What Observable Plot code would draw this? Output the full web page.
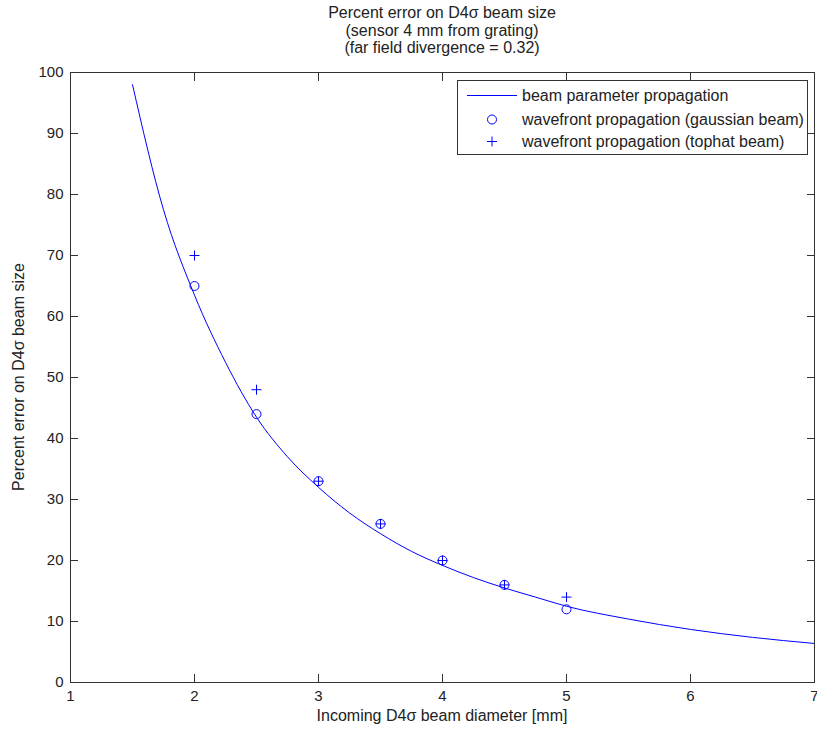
<!DOCTYPE html>
<html><head><meta charset="utf-8">
<script src="https://cdn.jsdelivr.net/npm/d3@7"></script>
<script src="https://cdn.jsdelivr.net/npm/@observablehq/plot@0.6"></script>
<style>
body{margin:0;background:#fff;font-family:"Liberation Sans",Arial,sans-serif;color:#222;}
#wrap{position:relative;width:817px;height:733px;overflow:hidden;}
#title{height:60px;box-sizing:border-box;padding:4px 3px 0 70px;text-align:center;font-size:16px;line-height:17.5px;}
#xlabel{position:absolute;left:70px;width:744px;top:707px;text-align:center;font-size:16px;line-height:18px;}
#ylabel{position:absolute;left:-181px;top:368px;width:400px;height:18px;text-align:center;font-size:16px;line-height:18px;transform:rotate(-90deg);transform-origin:center;}
#legend{position:absolute;left:457px;top:80px;}
</style></head>
<body>
<div id="wrap">
  <div id="title">Percent error on D4σ beam size<br>(sensor 4 mm from grating)<br>(far field divergence = 0.32)</div>
  <div id="chart"></div>
  <div id="xlabel">Incoming D4σ beam diameter [mm]</div>
  <div id="ylabel">Percent error on D4σ beam size</div>
  <svg id="legend" width="351" height="75" font-family="Liberation Sans, Arial, sans-serif" font-size="16">
    <rect x="0.5" y="0.5" width="350" height="74" fill="#fff" stroke="#333"/>
    <line x1="10" x2="60" y1="15.5" y2="15.5" stroke="blue"/>
    <circle cx="35" cy="39.5" r="4.5" fill="none" stroke="blue"/>
    <path d="M30,61.5h10M35,56.5v10" stroke="blue" fill="none"/>
    <text x="65" y="15.5" dy="0.35em" fill="#222">beam parameter propagation</text>
    <text x="65" y="39.5" dy="0.35em" fill="#222">wavefront propagation (gaussian beam)</text>
    <text x="65" y="61.5" dy="0.35em" fill="#222">wavefront propagation (tophat beam)</text>
  </svg>
</div>
<script>
// Curve: beam parameter propagation
const curveD   = [1.5, 1.75, 2, 2.25, 2.5, 2.75, 3, 3.25, 3.5, 3.75, 4, 4.25, 4.5, 4.75, 5, 5.5, 6, 6.5, 7];
const curveErr = [98, 77.5, 63.5, 52.5, 43.5, 37, 32, 27.8, 24.4, 21.5, 19.2, 17.2, 15.5, 14, 12.5, 10.4, 8.7, 7.4, 6.4];
// Wavefront propagation points
const pointD    = [2, 2.5, 3, 3.5, 4, 4.5, 5];
const gaussErr  = [65, 44, 33, 26, 20, 16, 12];
const tophatErr = [70, 48, 33, 26, 20, 16, 14];
// Ticks
const xTicks = [1, 2, 3, 4, 5, 6, 7];
const yTicks = [0, 10, 20, 30, 40, 50, 60, 70, 80, 90, 100];

const curve = curveD.map((d, i) => ({d, e: curveErr[i]}));
const gauss = pointD.map((d, i) => ({d, e: gaussErr[i]}));
const tophat = pointD.map((d, i) => ({d, e: tophatErr[i]}));

const plusSymbol = {
  draw(ctx, size) {
    const r = Math.sqrt(size / Math.PI);
    ctx.moveTo(-r, 0); ctx.lineTo(r, 0);
    ctx.moveTo(0, -r); ctx.lineTo(0, r);
  }
};

const chart = Plot.plot({
  width: 817,
  height: 673,
  marginTop: 12,
  marginLeft: 70,
  marginRight: 3,
  marginBottom: 51,
  style: {fontFamily: "Liberation Sans, Arial, sans-serif", fontSize: "15px", color: "#222", background: "white", overflow: "visible"},
  x: {domain: [1, 7]},
  y: {domain: [0, 100]},
  marks: [
    Plot.axisX({anchor: "bottom", ticks: xTicks, tickFormat: d => String(d), tickSize: -8, tickPadding: 16, label: null, stroke: "#333"}),
    Plot.axisX({anchor: "top", ticks: xTicks, tickSize: -8, tickFormat: () => "", label: null, stroke: "#333"}),
    Plot.axisY({anchor: "left", ticks: yTicks, tickFormat: d => String(d), tickSize: -8, tickPadding: 15, label: null, stroke: "#333"}),
    Plot.axisY({anchor: "right", ticks: yTicks, tickSize: -8, tickFormat: () => "", label: null, stroke: "#333"}),
    Plot.line(curve, {x: "d", y: "e", stroke: "blue", strokeWidth: 1, curve: "monotone-x"}),
    Plot.dot(gauss, {x: "d", y: "e", r: 4.5, symbol: "circle", stroke: "blue", fill: "none", strokeWidth: 1}),
    Plot.dot(tophat, {x: "d", y: "e", r: 5, symbol: plusSymbol, stroke: "blue", fill: "none", strokeWidth: 1}),
    Plot.frame({stroke: "#333"})
  ]
});
document.getElementById("chart").appendChild(chart);
</script>
</body></html>
